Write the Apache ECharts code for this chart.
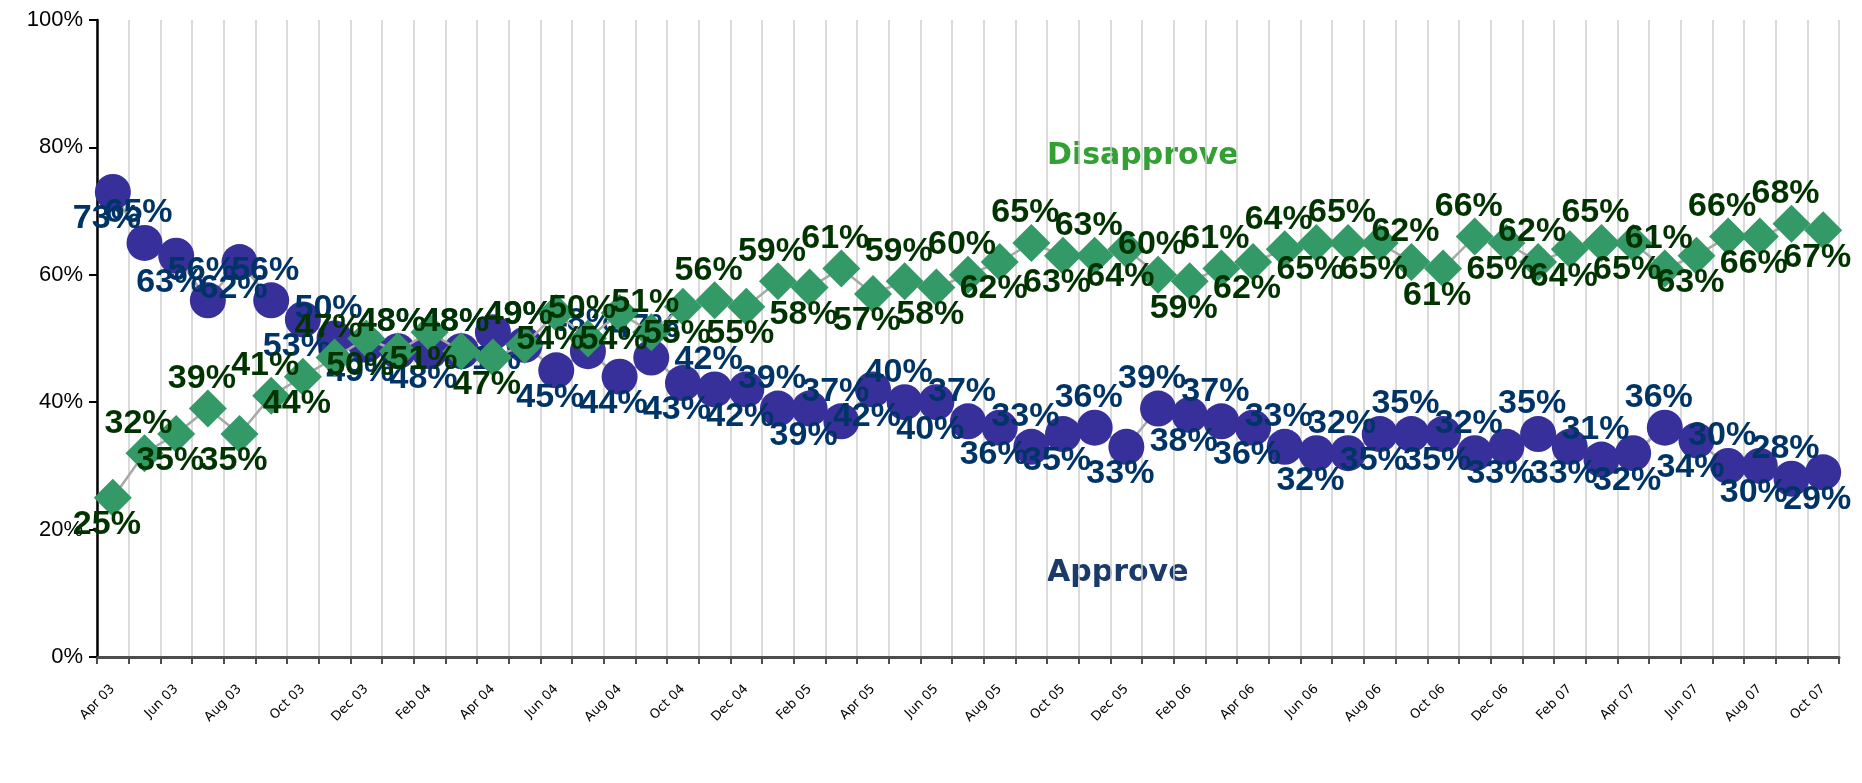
<!DOCTYPE html>
<html><head><meta charset="utf-8">
<script src="https://cdn.jsdelivr.net/npm/echarts@6/dist/echarts.min.js"></script>
<style>html,body{margin:0;padding:0;background:#fff}#c{width:1862px;height:783px}</style>
</head><body><div id="c"></div>
<script>
const categories = ["Apr 03","May 03","Jun 03","Jul 03","Aug 03","Sep 03","Oct 03","Nov 03","Dec 03","Jan 04","Feb 04","Mar 04","Apr 04","May 04","Jun 04","Jul 04","Aug 04","Sep 04","Oct 04","Nov 04","Dec 04","Jan 05","Feb 05","Mar 05","Apr 05","May 05","Jun 05","Jul 05","Aug 05","Sep 05","Oct 05","Nov 05","Dec 05","Jan 06","Feb 06","Mar 06","Apr 06","May 06","Jun 06","Jul 06","Aug 06","Sep 06","Oct 06","Nov 06","Dec 06","Jan 07","Feb 07","Mar 07","Apr 07","May 07","Jun 07","Jul 07","Aug 07","Sep 07","Oct 07"];
const approve = [73,65,63,56,62,56,53,50,49,48,48,48,51,49,45,48,44,47,43,42,42,39,39,37,42,40,40,37,36,33,35,36,33,39,38,37,36,33,32,32,35,35,35,32,33,35,33,31,32,36,34,30,30,28,29];
const disapprove = [25,32,35,39,35,41,44,47,50,48,51,48,47,49,54,50,54,51,55,56,55,59,58,61,57,59,58,60,62,65,63,63,64,60,59,61,62,64,65,65,65,62,61,66,65,62,64,65,65,61,63,66,66,68,67];
const seriesNames = ["Approve","Disapprove"];

const labelFont = {fontFamily:"'Liberation Sans',Arial,sans-serif",fontWeight:'bold',fontSize:34};
function items(vals){
  return vals.map((v,i)=>({value:v,label:{offset:[-6, i%2===0 ? 27 : -30]}}));
}
const chart = echarts.init(document.getElementById('c'),null,{renderer:'canvas'});
chart.setOption({
  animation:false,
  backgroundColor:'#ffffff',
  grid:{left:97,right:23,top:20,bottom:126},
  xAxis:{type:'category',data:categories,boundaryGap:true,
    axisLine:{lineStyle:{color:'#4d4d4d',width:3}},
    axisTick:{show:true,interval:0,length:7,lineStyle:{color:'#4d4d4d',width:2}},
    splitLine:{show:true,interval:0,lineStyle:{color:'#cfcfcf',width:1.5}},
    axisLabel:{interval:1,rotate:45,fontSize:13,color:'#000',margin:30,fontFamily:'DejaVu Sans'}},
  yAxis:{type:'value',min:0,max:100,interval:20,
    axisLine:{show:true,lineStyle:{color:'#000',width:2.5}},
    axisTick:{show:true,length:8,lineStyle:{color:'#000',width:2}},
    splitLine:{show:false},
    axisLabel:{formatter:'{value}%',fontSize:22,color:'#000',margin:14,fontFamily:'Liberation Sans'}},
  series:[
    {name:seriesNames[0],type:'line',data:items(approve),symbol:'circle',symbolSize:36,showAllSymbol:true,
     itemStyle:{color:'#37309b'},lineStyle:{color:'#a8a8a8',width:2.5},
     label:Object.assign({show:true,position:'inside',formatter:'{c}%',color:'#003366'},labelFont),z:2},
    {name:seriesNames[1],type:'line',data:items(disapprove),symbol:'diamond',symbolSize:38,showAllSymbol:true,
     itemStyle:{color:'#339966'},lineStyle:{color:'#a8a8a8',width:2.5},
     label:Object.assign({show:true,position:'inside',formatter:'{c}%',color:'#003300'},labelFont),z:3}
  ],
  graphic:[
    {type:'text',left:1047,top:141,style:{text:'Disapprove',fill:'#33a033',font:"bold 30px 'DejaVu Sans'"}},
    {type:'text',left:1047,top:558,style:{text:'Approve',fill:'#1a3a6b',font:"bold 30px 'DejaVu Sans'"}}
  ]
});
</script></body></html>
